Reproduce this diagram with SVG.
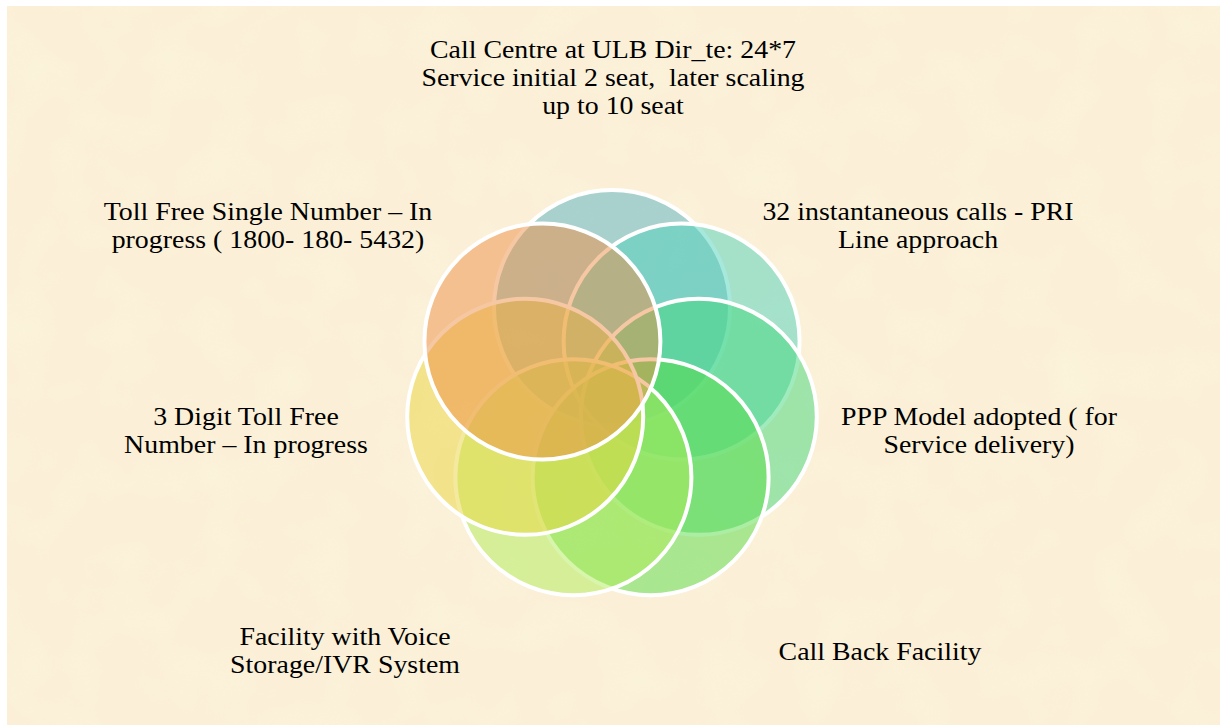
<svg xmlns="http://www.w3.org/2000/svg" width="1220" height="725" viewBox="0 0 1220 725">
<defs>
<style>
.lbl{font-family:"Liberation Serif","Times New Roman",serif;font-size:25px;fill:#000;text-anchor:middle;white-space:pre}
.c{stroke:#fff;stroke-width:4}
</style>
<filter id="tex" x="0" y="0" width="100%" height="100%">
<feTurbulence type="fractalNoise" baseFrequency="0.02" numOctaves="2" seed="3"/>
<feColorMatrix type="matrix" values="0 0 0 0 1  0 0 0 0 1  0 0 0 0 0.85  1.2 0 0 0 -0.55"/>
</filter>
</defs>
<rect width="1220" height="725" fill="#ffffff"/>
<rect x="7" y="6" width="1213" height="719" fill="#fbf0d7"/>
<rect x="7" y="6" width="1213" height="719" filter="url(#tex)" opacity="0.35"/>
<g id="circles">
<g id="n1"><circle class="c" cx="612" cy="308" r="118" fill="#55b1c3" fill-opacity="0.5"/></g>
<g id="n2"><circle class="c" cx="681.6" cy="341.5" r="118" fill="#4fd1bb" fill-opacity="0.5"/></g>
<g id="n3"><circle class="c" cx="698.8" cy="416.8" r="118" fill="#41d77b" fill-opacity="0.5"/></g>
<g id="n4"><circle class="c" cx="650.6" cy="477.2" r="118" fill="#57db47" fill-opacity="0.5"/></g>
<g id="n5"><circle class="c" cx="573.4" cy="477.2" r="118" fill="#afeb57" fill-opacity="0.5"/></g>
<g id="n6"><circle class="c" cx="525.2" cy="416.8" r="118" fill="#e9d53f" fill-opacity="0.5"/></g>
<g id="n7"><circle class="c" cx="542.4" cy="341.5" r="118" fill="#ed8f47" fill-opacity="0.5"/></g>
</g>
<g id="connectors"></g>
<g id="t1" transform="translate(613 0) scale(1.115 1)"><text class="lbl"><tspan x="0" y="58">Call Centre at ULB Dir_te: 24*7</tspan><tspan x="0" y="86">Service initial 2 seat,  later scaling</tspan><tspan x="0" y="114">up to 10 seat</tspan></text></g>
<g id="t2" transform="translate(268 0) scale(1.115 1)"><text class="lbl"><tspan x="0" y="220">Toll Free Single Number – In</tspan><tspan x="0" y="248">progress ( 1800- 180- 5432)</tspan></text></g>
<g id="t3" transform="translate(918 0) scale(1.115 1)"><text class="lbl"><tspan x="0" y="220">32 instantaneous calls - PRI</tspan><tspan x="0" y="248">Line approach</tspan></text></g>
<g id="t4" transform="translate(246 0) scale(1.115 1)"><text class="lbl"><tspan x="0" y="425">3 Digit Toll Free</tspan><tspan x="0" y="453">Number – In progress</tspan></text></g>
<g id="t5" transform="translate(979 0) scale(1.115 1)"><text class="lbl"><tspan x="0" y="425">PPP Model adopted ( for</tspan><tspan x="0" y="453">Service delivery)</tspan></text></g>
<g id="t6" transform="translate(345 0) scale(1.115 1)"><text class="lbl"><tspan x="0" y="645">Facility with Voice</tspan><tspan x="0" y="673">Storage/IVR System</tspan></text></g>
<g id="t7" transform="translate(880 0) scale(1.115 1)"><text class="lbl" x="0" y="660">Call Back Facility</text></g>
</svg>
